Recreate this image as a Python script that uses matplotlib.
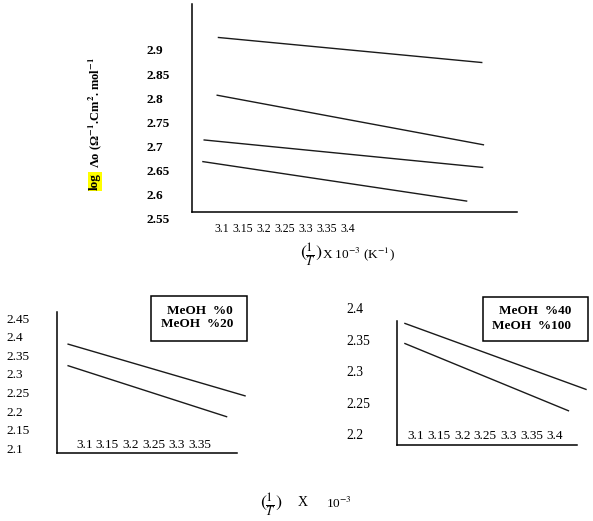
import matplotlib.pyplot as plt
from matplotlib.patches import Rectangle

# top panel: four lines (start, end)
top_x = [[3.092, 3.719], [3.089, 3.723], [3.058, 3.721], [3.055, 3.683]]
top_y = [[2.926, 2.874], [2.806, 2.703], [2.713, 2.656], [2.668, 2.586]]
top_xticks = [3.1, 3.15, 3.2, 3.25, 3.3, 3.35, 3.4]
top_yticks = [2.55, 2.6, 2.65, 2.7, 2.75, 2.8, 2.85, 2.9]

# bottom left panel
left_x = [[3.065, 3.448], [3.065, 3.408]]
left_y = [[2.380, 2.241], [2.322, 2.185]]
left_xticks = [3.1, 3.15, 3.2, 3.25, 3.3, 3.35]
left_yticks = [2.1, 2.15, 2.2, 2.25, 2.3, 2.35, 2.4, 2.45]
left_names = ["MeOH  %0", "MeOH  %20"]

# bottom right panel
right_x = [[3.076, 3.468], [3.076, 3.430]]
right_y = [[2.376, 2.271], [2.344, 2.237]]
right_xticks = [3.1, 3.15, 3.2, 3.25, 3.3, 3.35, 3.4]
right_yticks = [2.2, 2.25, 2.3, 2.35, 2.4]
right_names = ["MeOH  %40", "MeOH  %100"]

W, H = 593, 521
plt.rcParams['font.family'] = ['Liberation Serif', 'DejaVu Serif']
plt.rcParams['mathtext.fontset'] = 'stix'


def box(l, t, r, b):
    return [l / W, 1 - b / H, (r - l) / W, (b - t) / H]


def fx(x):
    return x / W


def fy(y):
    return 1 - y / H


def fmt(v):
    return f"{v:g}"


def panel(rect, xs, ys, xlim, ylim, spine_bottom, spine_top, xticks, yticks,
          xfs, yfs, ybold, xpad, ypad):
    ax = fig.add_axes(rect)
    for x, y in zip(xs, ys):
        ax.plot(x, y, color='#1a1a1a', lw=1.0, clip_on=False)
    ax.set_xlim(*xlim)
    ax.set_ylim(*ylim)
    ax.spines[['top', 'right']].set_visible(False)
    ax.spines['bottom'].set_position(('data', spine_bottom))
    ax.spines['left'].set_bounds(spine_bottom, spine_top)
    ax.spines['bottom'].set_linewidth(1.1)
    ax.spines['left'].set_linewidth(1.1)
    ax.set_xticks(xticks)
    ax.set_xticklabels([fmt(v) for v in xticks], fontsize=xfs)
    ax.set_yticks(yticks)
    ax.set_yticklabels([fmt(v) for v in yticks], fontsize=yfs,
                       fontweight='bold' if ybold else 'normal', ha='left')
    ax.tick_params(length=0)
    ax.tick_params(axis='x', pad=xpad)
    ax.tick_params(axis='y', pad=ypad)
    ax.patch.set_visible(False)
    return ax


fig = plt.figure(figsize=(W / 100, H / 100), dpi=100)

panel(box(191.7, 4, 517, 220.8), top_x, top_y, (3.0283, 3.803), (2.545, 2.9956),
      2.5638, 2.9956, top_xticks, top_yticks, 8.5, 9.5, True, 8.3, 32.4)

panel(box(57.3, 311.7, 236.7, 453.3), left_x, left_y, (3.0416, 3.4299),
      (2.0866, 2.4672), 2.0866, 2.4672, left_xticks, left_yticks,
      9.5, 9.5, False, -10.0, 36.9)

panel(box(396.7, 305.2, 577, 445), right_x, right_y, (3.0582, 3.4485),
      (2.1825, 2.405), 2.1825, 2.3798, right_xticks, right_yticks,
      9.5, 9.8, False, -10.7, 36.5)

# y label of the top panel
fig.text(fx(95), fy(190), "log", rotation=90, ha='center', va='bottom',
         fontsize=9.5, fontweight='bold',
         bbox=dict(facecolor='yellow', edgecolor='none', pad=0.6))
fig.text(fx(95), fy(168),
         r"Λo (Ω$^{\mathbf{-1}}$.Cm$^{\mathbf{2}}$. mol$^{\mathbf{-1}}$",
         rotation=90, ha='center', va='bottom', fontsize=9, fontweight='bold')

# x label of the top panel
fig.text(fx(311.5), fy(255), r"$(\frac{1}{T})$", ha='center', va='center', fontsize=13)
fig.text(fx(321.7), fy(254), r"X 10$^{-3}$ (K$^{-1}$)", ha='left', va='center',
         fontsize=9.5)

# x label under the bottom panels
fig.text(fx(271.5), fy(505), r"$(\frac{1}{T})$", ha='center', va='center', fontsize=13)
fig.text(fx(302.3), fy(503), "X", ha='center', va='center', fontsize=10)
fig.text(fx(339), fy(503), r"10$^{-3}$", ha='center', va='center', fontsize=9.5)

# boxed series names
for (l, t, r, b), names, pos in [
        ((151, 296, 247.3, 340.7), left_names, [(200, 310.7), (197, 324.3)]),
        ((483.3, 296.7, 588.3, 340.7), right_names, [(535, 310.7), (531.7, 326)])]:
    fig.add_artist(Rectangle((fx(l), fy(b)), (r - l) / W, (b - t) / H,
                             transform=fig.transFigure, fill=False,
                             lw=1.1, ec='black'))
    for name, (x, y) in zip(names, pos):
        fig.text(fx(x), fy(y), name, ha='center', va='center',
                 fontsize=9.5, fontweight='bold')

fig.savefig("out.png", dpi=100)
